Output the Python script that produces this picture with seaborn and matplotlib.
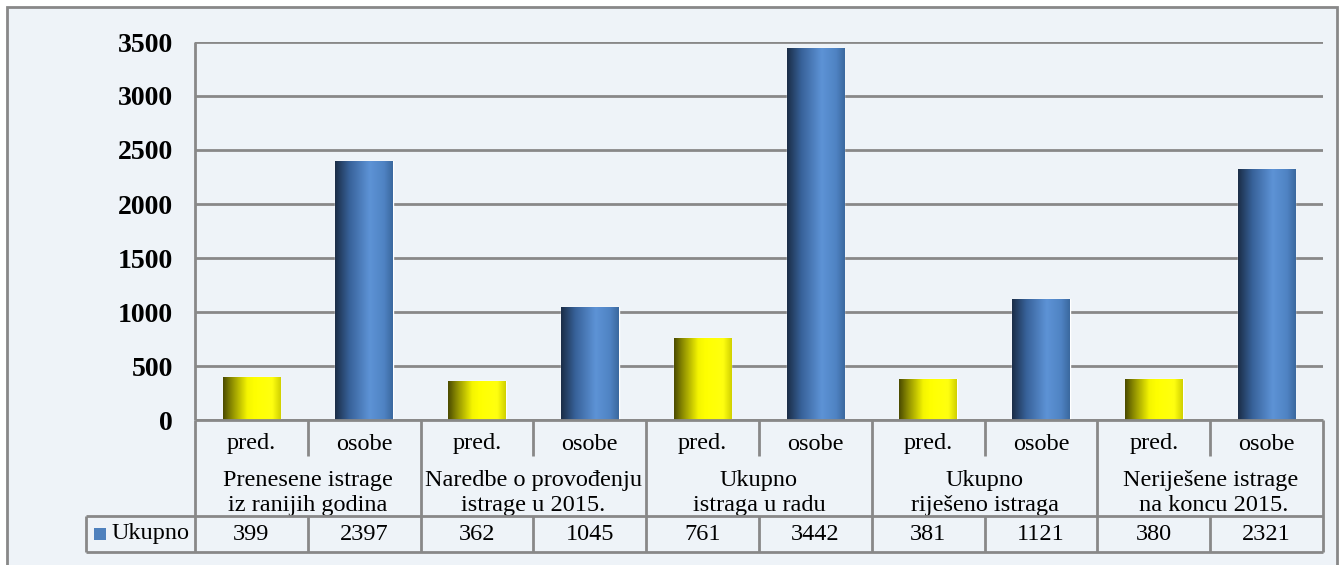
import numpy as np
import pandas as pd
import matplotlib
matplotlib.use("Agg")
import matplotlib.pyplot as plt
import matplotlib.transforms as mtrans
from matplotlib.colors import LinearSegmentedColormap
from matplotlib.patches import Rectangle
import seaborn as sns

# ── Data ─────────────────────────────────────────────────────────
groups = ["Prenesene istrage\niz ranijih godina",
          "Naredbe o provođenju\nistrage u 2015.",
          "Ukupno\nistraga u radu",
          "Ukupno\nriješeno istraga",
          "Neriješene istrage\n na koncu 2015."]
kinds = ["pred.", "osobe"]
values = [399, 2397, 362, 1045, 761, 3442, 381, 1121, 380, 2321]
series_name = "Ukupno"
yticks = [0, 500, 1000, 1500, 2000, 2500, 3000, 3500]

df = pd.DataFrame({
    "key": [f"{g}|{k}" for g in groups for k in kinds],
    "kind": [k for g in groups for k in kinds],
    "value": values,
})

# ── Style ────────────────────────────────────────────────────────
sns.set_theme(style="white")
plt.rcParams["font.family"] = ["Liberation Serif", "DejaVu Serif"]

BG = "#EEF3F8"
LINE = "#888888"

fig = plt.figure(figsize=(13.41, 5.65), dpi=100, facecolor="white")
W, H = 1341, 565

# outer chart frame
fig.patches.append(Rectangle((7 / W, -0.1), 1330 / W, 1.1 - 7 / H,
                             transform=fig.transFigure, facecolor=BG,
                             edgecolor=LINE, linewidth=2, zorder=-10))

# plot area in pixels: x 195..1323, y 42..420
ax = fig.add_axes([195 / W, (H - 420) / H, 1128 / W, 378 / H])
ax.set_facecolor("none")

pal = {"pred.": "#FFFF00", "osobe": "#4F81BD"}
sns.barplot(data=df, x="key", y="value", hue="kind", palette=pal,
            dodge=False, width=0.51, legend=False, ax=ax, zorder=3)

# gradient fill on each bar
cm_y = LinearSegmentedColormap.from_list(
    "yel", [(0, "#4a4a00"), (0.15, "#8c8c00"), (0.42, "#f5f500"),
            (0.55, "#ffff00"), (0.85, "#ffff10"), (1, "#d0d000")])
cm_b = LinearSegmentedColormap.from_list(
    "blu", [(0, "#1b2d47"), (0.25, "#38629a"), (0.6, "#5d93d6"),
            (0.85, "#4f83c3"), (1, "#3a689e")])
grad = np.linspace(0, 1, 256).reshape(1, -1)
kind_list = list(df["kind"])
for patch in list(ax.patches):
    x0, y0 = patch.get_x(), patch.get_y()
    w, h = patch.get_width(), patch.get_height()
    idx = int(round(x0 + w / 2))
    kind = kind_list[idx]
    im = ax.imshow(grad, cmap=cm_y if kind == "pred." else cm_b,
                   extent=(x0, x0 + w, y0, y0 + h), aspect="auto",
                   zorder=4, interpolation="bicubic")
    im.set_clip_path(patch)

n = len(values)
ax.set_xlim(-0.5, n - 0.5)
ax.set_ylim(0, 3500)
ax.set_yticks(yticks)
ax.set_yticklabels([str(t) for t in yticks], fontsize=20, fontweight="bold",
                   color="black")
ax.tick_params(axis="y", length=0, pad=16)
ax.set_xticks([])
ax.set_xlabel("")
ax.set_ylabel("")
ax.yaxis.grid(True, color=LINE, linewidth=2)
ax.set_axisbelow(True)
for s in ["top", "right", "bottom"]:
    ax.spines[s].set_visible(False)
ax.spines["left"].set_color(LINE)
ax.spines["left"].set_linewidth(2)
ax.spines["left"].set_capstyle("butt")

# ── Data table under the axis ───────────────────────────────────
tr = mtrans.blended_transform_factory(ax.transData, ax.transAxes)
px = lambda y: (420 - y) / 378          # pixel row -> axes fraction
r0, r1, r2, r3 = px(420), px(456), px(516), px(552)
xl = -0.5 - (195 - 86) / (1128 / n)      # left edge of the legend cell

def line(xs, ys):
    ax.plot(xs, ys, color=LINE, linewidth=2, transform=tr, clip_on=False,
            solid_capstyle="butt", zorder=5)

line([-0.5, n - 0.5], [r0, r0])
line([xl, n - 0.5], [r2, r2])
line([xl, n - 0.5], [r3, r3])
line([xl, xl], [r2, r3])
for i in range(n + 1):
    xb = i - 0.5
    if i % 2 == 1:
        line([xb, xb], [r0, r1])
        line([xb, xb], [r2, r3])
    else:
        line([xb, xb], [r0, r3])

fs = 17.5
for i, (k, v) in enumerate(zip(kind_list, values)):
    ax.text(i, px(444), k, transform=tr, ha="center", va="center",
            fontsize=fs, color="black")
    ax.text(i, px(534), str(v), transform=tr, ha="center", va="center",
            fontsize=fs, color="black")
for j, g in enumerate(groups):
    ax.text(2 * j + 0.5, px(493), g, transform=tr, ha="center",
            va="center", fontsize=fs, color="black", linespacing=1.3)

# legend key in the table
ax.add_patch(Rectangle((xl + 0.07, px(540)), 0.105, 12 / 378,
                       transform=tr, facecolor="#4F81BD", edgecolor="none",
                       clip_on=False))
ax.text(xl + 0.23, px(534), series_name, transform=tr, ha="left",
        va="center", fontsize=fs, color="black")

plt.savefig("out.png", dpi=100, facecolor="white")
plt.close()
